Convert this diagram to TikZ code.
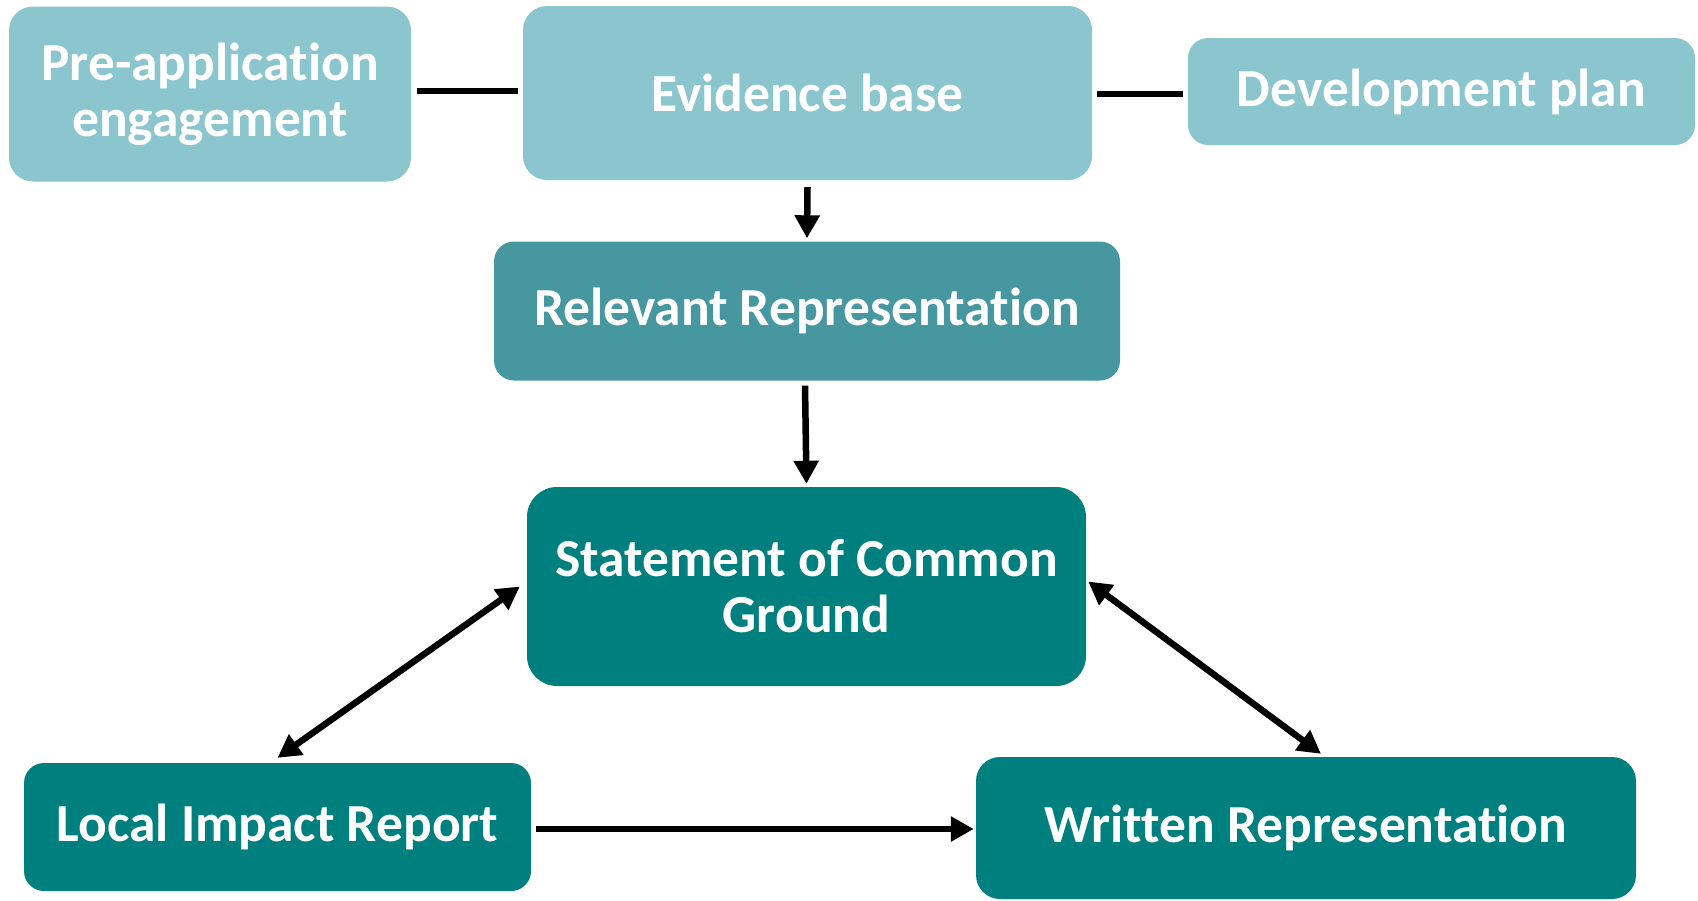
\documentclass[tikz,border=0pt]{standalone}
\usepackage{fontspec}
\setmainfont{Carlito}[Ligatures=NoCommon]
\usetikzlibrary{arrows.meta,calc}
\definecolor{lightteal}{HTML}{8BC5CD}
\definecolor{midteal}{HTML}{4697A0}
\definecolor{darkteal}{HTML}{007F7F}
\tikzset{
  box/.style={draw=none, rounded corners=24pt, inner sep=0pt, align=center,
    text=white, font=\fontsize{53.5}{56}\selectfont\bfseries},
  lightbox/.style={box, fill=lightteal},
  midbox/.style={box, fill=midteal},
  darkbox/.style={box, fill=darkteal},
  link/.style={line width=6.5pt, black},
  arr/.style={link, -{Triangle[length=23pt,width=24pt]}},
  dblarr/.style={link, {Triangle[length=23pt,width=24pt]}-{Triangle[length=23pt,width=24pt]}}
}
\begin{document}
\begin{tikzpicture}[x=1pt,y=-1pt]
\useasboundingbox (0,0) rectangle (1698,900);
\node[lightbox, minimum width=402pt, minimum height=175pt] (pa) at (210,94) {Pre-application\\engagement};
\node[lightbox, minimum width=569pt, minimum height=174pt] (ev) at (807.5,93) {Evidence base};
\node[lightbox, minimum width=507pt, minimum height=107pt, rounded corners=20pt] (dp) at (1441.5,91.5) {Development plan};
\node[midbox, minimum width=626pt, minimum height=139pt, rounded corners=20pt] (rr) at (807,311) {Relevant Representation};
\node[darkbox, minimum width=559pt, minimum height=199pt, rounded corners=30pt] (sc) at (806.5,586.5) {Statement of Common\\Ground};
\node[darkbox, minimum width=507pt, minimum height=128pt, rounded corners=20pt] (li) at (277.5,827) {Local Impact Report};
\node[darkbox, minimum width=660pt, minimum height=142pt, rounded corners=24pt] (wr) at (1306,828) {Written Representation};

\draw[link] ($(pa.east)+(6,-3)$) -- ($(pa.east -| ev.west)+(-5,-3)$);
\draw[link] ($(ev.east)+(5,1)$) -- ($(ev.east -| dp.west)+(-5,1)$);
\draw[arr] ($(ev.south)+(0,7)$) -- ($(rr.north)+(0,-3)$);
\draw[arr] ($(rr.south)+(-2,5)$) -- ($(sc.north)+(0,-3)$);
\draw[dblarr] ($(li.north)+(0,-5)$) -- ($(sc.west)+(-7,0)$);
\draw[dblarr] ($(sc.east)+(2,-5)$) -- ($(wr.north)+(15,-3)$);
\draw[arr] ($(li.east)+(5,2)$) -- ($(li.east -| wr.west)+(-2,2)$);
\end{tikzpicture}
\end{document}
